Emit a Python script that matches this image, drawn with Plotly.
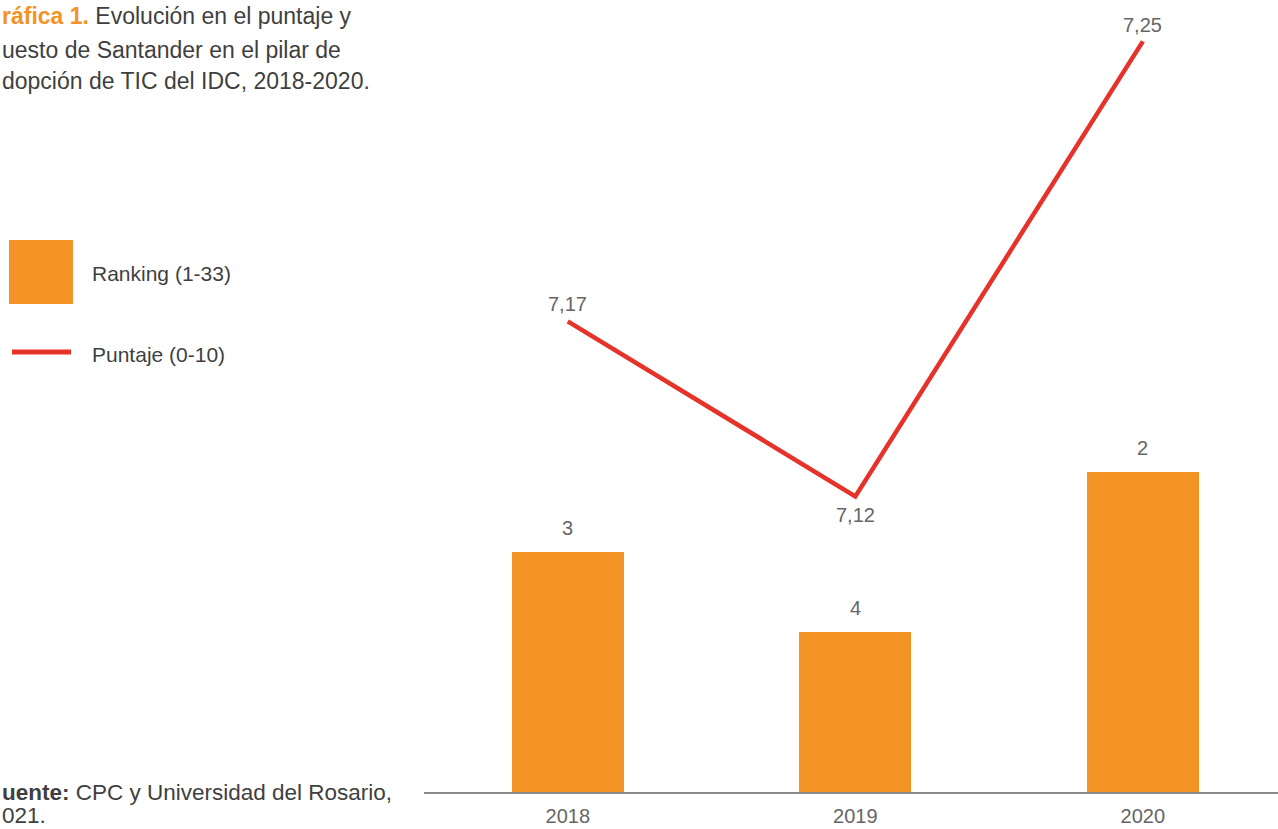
import plotly.graph_objects as go

years = ["2018", "2019", "2020"]
ranking = [3, 4, 2]
puntaje = [7.17, 7.12, 7.25]
puntaje_labels = ["7,17", "7,12", "7,25"]
ranking_labels = ["3", "4", "2"]

W, H = 1278, 829
ORANGE = "#F39325"
RED = "#E63329"
LABEL = "#666666"
TEXT = "#3f3f3f"
FONT = "Liberation Sans"

def py(px):
    return 1 - px / H

def pxx(px):
    return px / W

rank_base = 6
fig = go.Figure()
fig.add_trace(go.Bar(
    x=years, y=[r - rank_base for r in ranking], base=[rank_base] * len(ranking),
    marker=dict(color=ORANGE, line=dict(width=0)), width=0.39,
    showlegend=False, hoverinfo="skip", yaxis="y"))
fig.add_trace(go.Scatter(
    x=years, y=puntaje, mode="lines", line=dict(color=RED, width=4.5),
    showlegend=False, hoverinfo="skip", yaxis="y2"))

annotations = []
for i, (r, lab) in enumerate(zip(ranking, ranking_labels)):
    annotations.append(dict(x=i, y=r, xref="x", yref="y", text=lab, showarrow=False,
                            yanchor="middle", yshift=24,
                            font=dict(family=FONT, size=20, color=LABEL)))
line_shifts = [17, -19, 16]
for i, (v, lab, s) in enumerate(zip(puntaje, puntaje_labels, line_shifts)):
    annotations.append(dict(x=i, y=v, xref="x", yref="y2", text=lab, showarrow=False,
                            yanchor="middle", yshift=s,
                            font=dict(family=FONT, size=20, color=LABEL)))

title_lines = [
    "<b><span style='color:#F39325'>ráfica 1.</span></b> Evolución en el puntaje y",
    "uesto de Santander en el pilar de",
    "dopción de TIC del IDC, 2018-2020.",
]
for txt, ypx in zip(title_lines, [16, 50, 81]):
    annotations.append(dict(x=0, y=py(ypx), xref="paper", yref="paper", text=txt,
                            showarrow=False, xanchor="left", yanchor="middle",
                            font=dict(family=FONT, size=23, color=TEXT)))
annotations.append(dict(x=pxx(90), y=py(273), xref="paper", yref="paper", text="Ranking (1-33)",
                        showarrow=False, xanchor="left", yanchor="middle",
                        font=dict(family=FONT, size=21, color=TEXT)))
annotations.append(dict(x=pxx(90), y=py(354), xref="paper", yref="paper", text="Puntaje (0-10)",
                        showarrow=False, xanchor="left", yanchor="middle",
                        font=dict(family=FONT, size=21, color=TEXT)))
for txt, ypx in zip(["<b>uente:</b> CPC y Universidad del Rosario,", "021."], [792, 815]):
    annotations.append(dict(x=0, y=py(ypx), xref="paper", yref="paper", text=txt,
                            showarrow=False, xanchor="left", yanchor="middle",
                            font=dict(family=FONT, size=22.5, color=TEXT)))

shapes = [
    dict(type="rect", xref="paper", yref="paper", x0=pxx(9), x1=pxx(73), y0=py(304), y1=py(240),
         fillcolor=ORANGE, line=dict(width=0)),
    dict(type="line", xref="paper", yref="paper", x0=pxx(12), x1=pxx(71), y0=py(352), y1=py(352),
         line=dict(color=RED, width=5)),
]

y_bottom_px, y_top_px = 792, 10
px_per_rank = 80
rank_span = (y_bottom_px - y_top_px) / px_per_rank
px_per_score = 3500
ref_v, ref_px = 7.18, 286.33
v_bottom = ref_v - (y_bottom_px - ref_px) / px_per_score
v_top = ref_v + (ref_px - y_top_px) / px_per_score

fig.update_layout(
    template="none",
    width=W, height=H, autosize=False, margin=dict(l=0, r=0, t=0, b=0, autoexpand=False),
    paper_bgcolor="white", plot_bgcolor="white",
    annotations=annotations, shapes=shapes,
    xaxis=dict(domain=[pxx(424), 1], type="category", range=[-0.5, 2.47], automargin=False,
               showline=True, linecolor="#8c8c8c", linewidth=2, showgrid=False,
               zeroline=False, ticks="", ticklabelstandoff=5,
               tickfont=dict(family=FONT, size=20, color=LABEL)),
    yaxis=dict(domain=[py(y_bottom_px), py(y_top_px)], range=[rank_base, rank_base - rank_span],
               visible=False, showgrid=False, zeroline=False, automargin=False),
    yaxis2=dict(overlaying="y", range=[v_bottom, v_top], visible=False,
                showgrid=False, zeroline=False, automargin=False),
    bargap=0,
)

fig.write_html("out.html",
               config={"displayModeBar": False, "responsive": False},
               post_script="document.body.style.margin='0';document.body.style.overflow='hidden';")
